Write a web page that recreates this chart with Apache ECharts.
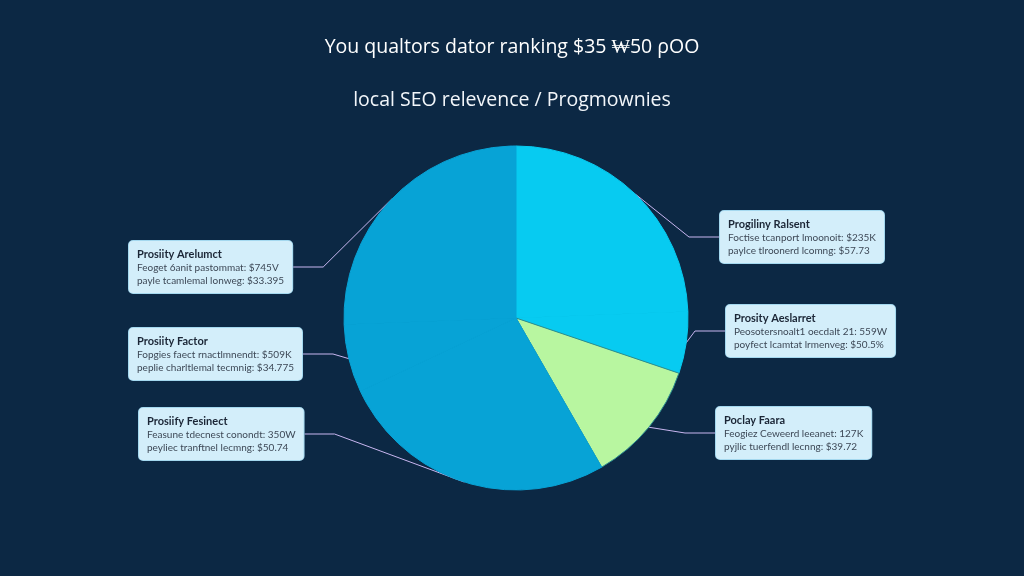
<!DOCTYPE html>
<html>
<head>
<meta charset="utf-8">
<script src="https://cdn.jsdelivr.net/npm/echarts@6/dist/echarts.min.js"></script>
<style>
html,body{margin:0;padding:0;background:#0c2844;}
#chart{width:1024px;height:576px;}
</style>
</head>
<body>
<div id="chart"></div>
<script>
// ---- data ----
const titleText = 'You qualtors dator ranking $35 \u20A950 \u03C1OO';
const subtitleText = 'local SEO relevence / Progmownies';
const sliceNames = ['Progiliny Ralsent', 'Prosity Aeslarret', 'Poclay Faara', 'Prosiify Fesinect', 'Prosiity Factor', 'Prosiity Arelumct'];
const sliceValues = [24.4, 5.8, 11.5, 26.3, 6.4, 25.6];
const lineOne = ['Foctise tcanport lmoonoit: $235K', 'Peosotersnoalt1 oecdalt 21: 559W', 'Feogiez Ceweerd leeanet: 127K', 'Feasune tdecnest conondt: 350W', 'Fopgies faect rnactlmnendt: $509K', 'Feoget 6anit pastommat: $745V'];
const lineTwo = ['paylce tlroonerd lcomng: $57.73', 'poyfect lcamtat lrmenveg: $50.5%', 'pyjlic tuerfendl lecnng: $39.72', 'peyliec tranftnel lecmng: $50.74', 'peplie charltlemal tecmnig: $34.775', 'payle tcamlemal lonweg: $33.395'];

// ---- styling / layout (not data) ----
const sliceColors = ['#07cbf1', '#07cbf1', '#b8f6a0', '#07a3d6', '#07a3d6', '#07a3d6'];
const calloutPos = [[720, 237], [726, 331], [716, 433], [139, 434], [129, 354], [129, 267]];

const chart = echarts.init(document.getElementById('chart'), null, {renderer: 'canvas'});

const pieData = sliceNames.map((n, i) => ({
  name: n,
  value: sliceValues[i],
  itemStyle: i === 2
    ? {color: sliceColors[i], borderColor: '#2a8c8f', borderWidth: 1}
    : {color: sliceColors[i], borderColor: sliceColors[i], borderWidth: 1},
  label: {
    formatter: '{t|' + n + '}\n{l|' + lineOne[i] + '}\n{l|' + lineTwo[i] + '}'
  }
}));

chart.setOption({
  backgroundColor: '#0c2844',
  animation: false,
  title: [
    {text: titleText, left: 'center', top: 32,
     textStyle: {color: '#ffffff', fontSize: 19.5, fontWeight: 'normal', fontFamily: 'Open Sans'}},
    {text: subtitleText, left: 'center', top: 85,
     textStyle: {color: '#f2f6fa', fontSize: 19.5, fontWeight: 'normal', fontFamily: 'Open Sans'}}
  ],
  series: [{
    type: 'pie',
    center: [516, 318],
    radius: 172,
    startAngle: 90,
    clockwise: true,
    data: pieData,
    label: {
      show: true,
      position: 'outside',
      backgroundColor: '#d3eefa',
      borderColor: '#a4d8ef',
      borderWidth: 1,
      borderRadius: 4,
      padding: [6, 8, 6, 8],
      fontFamily: 'Lato',
      rich: {
        t: {fontSize: 11, fontWeight: 'bold', color: '#1b2636', lineHeight: 14, fontFamily: 'Lato'},
        l: {fontSize: 10, color: '#3d4856', lineHeight: 13, fontFamily: 'Lato'}
      }
    },
    labelLine: {
      show: true,
      length: 10,
      length2: 30,
      lineStyle: {color: '#c8b6f0', width: 1}
    },
    labelLayout: function (params) {
      const p = calloutPos[params.dataIndex];
      return {x: p[0], y: p[1], align: 'left', verticalAlign: 'middle'};
    },
    emphasis: {disabled: true}
  }]
});
</script>
</body>
</html>
